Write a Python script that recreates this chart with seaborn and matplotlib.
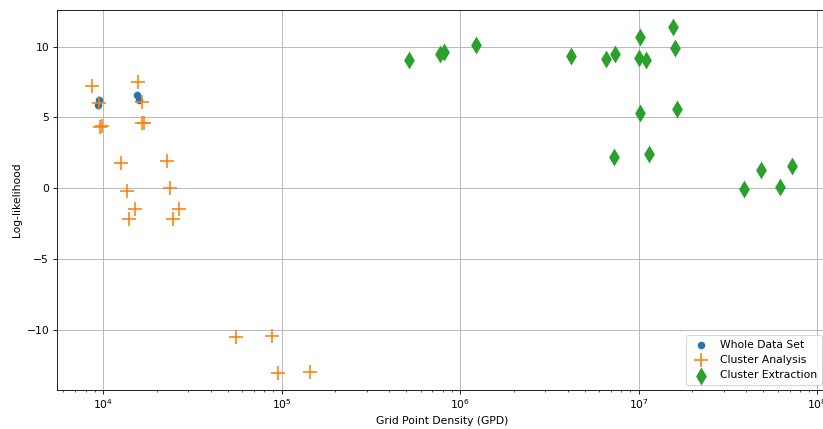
import numpy as np
import pandas as pd
import seaborn as sns
import matplotlib
matplotlib.use('Agg')
import matplotlib.pyplot as plt

# Whole data set
whole_x = [9460, 9340, 15500, 15960]
whole_y = [6.2, 5.85, 6.6, 6.2]

# Cluster analysis
ca_x = [8690, 9460, 9660, 9870, 15700, 16530, 16530, 16900, 12610, 22780,
        13560, 23770, 15100, 26680, 13920, 24720, 55300, 87900, 95900, 143900]
ca_y = [7.18, 6.0, 4.3, 4.35, 7.49, 6.08, 4.6, 4.6, 1.74, 1.9,
        -0.19, -0.02, -1.48, -1.48, -2.18, -2.18, -10.54, -10.47, -13.05, -12.98]

# Cluster extraction
ce_x = [518000, 772000, 816000, 1.23e6, 4.17e6, 6.6e6, 7.35e6, 1.013e7, 1.004e7,
        1.094e7, 1.556e7, 1.604e7, 1.014e7, 1.65e7, 7.28e6, 1.143e7,
        3.91e7, 4.86e7, 6.21e7, 7.22e7]
ce_y = [9.06, 9.49, 9.6, 10.14, 9.3, 9.13, 9.44, 10.7, 9.2,
        9.06, 11.36, 9.88, 5.33, 5.61, 2.16, 2.44,
        -0.09, 1.27, 0.09, 1.55]

dpi = 77
fig = plt.figure(figsize=(824 / dpi, 429 / dpi), dpi=dpi)
ax = fig.add_axes([56.7 / 824, 1 - 390 / 429, (827 - 56.7) / 824, 380 / 429])

sns.scatterplot(x=whole_x, y=whole_y, ax=ax, color='C0', marker='o', s=50,
                linewidth=0, label='Whole Data Set')
sns.scatterplot(x=ca_x, y=ca_y, ax=ax, color='C1', marker='+', s=150,
                linewidth=1.5, label='Cluster Analysis')
sns.scatterplot(x=ce_x, y=ce_y, ax=ax, color='C2', marker='d', s=140,
                linewidth=0, label='Cluster Extraction')

ax.set_xscale('log')
ax.set_xlim(5500, 1.135e8)
ax.set_ylim(-14.27, 12.58)
ax.grid(True, which='major', color='#b0b0b0', linewidth=0.8)
ax.set_axisbelow(True)
ax.set_xlabel('Grid Point Density (GPD)')
ax.set_ylabel('Log-likelihood')
ax.legend(loc='lower right')

fig.savefig('out.png', dpi=dpi)
